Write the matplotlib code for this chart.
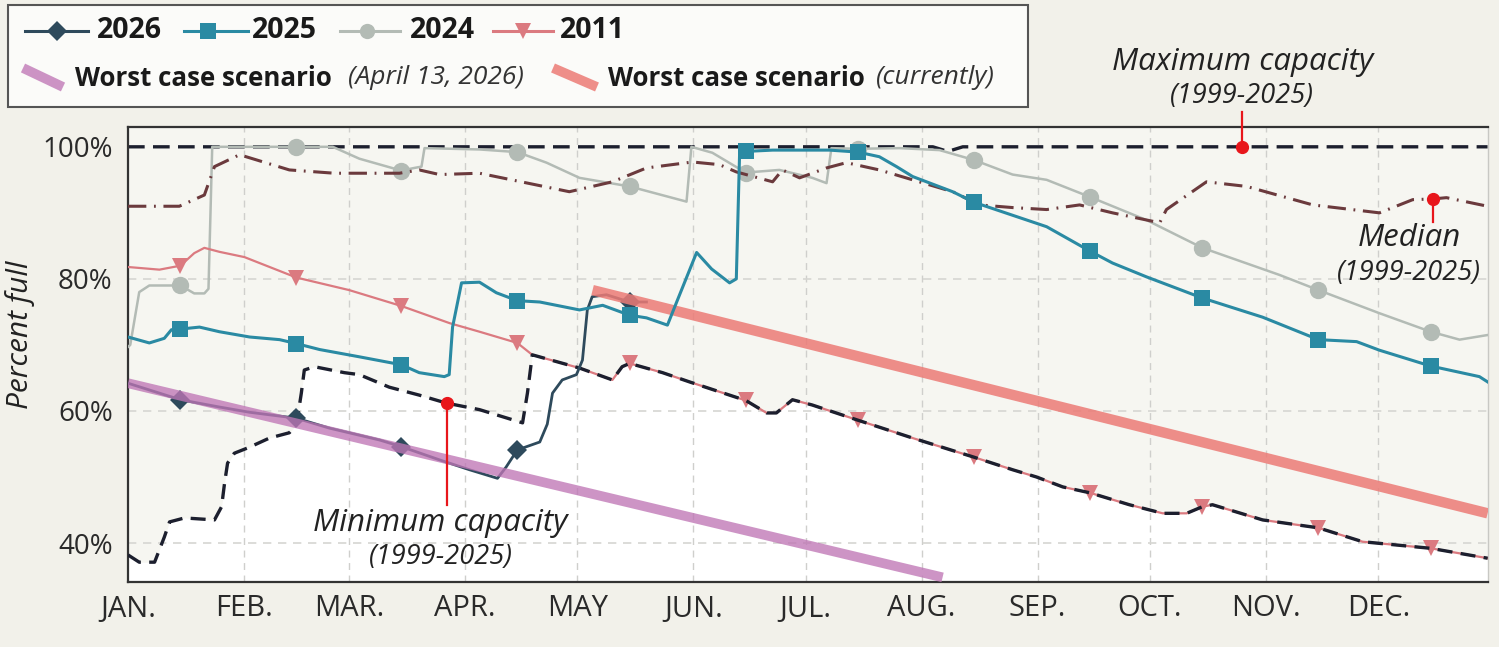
import matplotlib
matplotlib.use('Agg')
import matplotlib.pyplot as plt
from matplotlib.lines import Line2D
from matplotlib.patches import Rectangle

plt.rcParams['font.family'] = ['Open Sans', 'DejaVu Sans']

# ---- data (day of year, percent full) ----
MONTHS = ['JAN.', 'FEB.', 'MAR.', 'APR.', 'MAY', 'JUN.', 'JUL.', 'AUG.',
          'SEP.', 'OCT.', 'NOV.', 'DEC.']
MONTH_START = [0, 31, 59, 90, 120, 151, 181, 212, 243, 273, 304, 334]
MID_MONTH = [14, 45, 73, 104, 134, 165, 195, 226, 257, 287, 318, 348]

d2026 = [0, 14, 24.4, 32.5, 45, 53.8, 67.2, 73, 83.2, 91.2, 98.7, 101, 104,
         110, 112, 113.4, 116, 119.8, 121.4, 122.7, 124, 127.8, 134, 138.5]
v2026 = [64.2, 61.7, 60.6, 59.8, 58.9, 57.4, 55.6, 54.6, 52.6, 51.1, 49.8, 51.5, 54.1,
         55.3, 58.0, 62.7, 64.7, 65.5, 67.7, 75.3, 77.3, 77.6, 76.5, 76.5]

d2025 = [0, 5.7, 9.7, 11.6, 14, 19.1, 24.4, 32.5, 40.5, 45, 51.2, 61.8, 73, 77.8,
         84.5, 85.8, 86.7, 89.1, 93.9, 98.4, 104, 110, 120.6, 126.8, 134, 138.5,
         144.1, 146.5, 151.9, 155.9, 160.7, 162.5, 163.4, 165, 172.2, 187.4, 195,
         200.7, 205.3, 209.6, 220.3, 226, 245.4, 257, 263, 272.1, 287, 303.1, 318,
         328.2, 334.3, 348, 361, 363.2]
v2025 = [71.2, 70.3, 71.0, 72.3, 72.4, 72.7, 72.0, 71.2, 70.8, 70.2, 69.3, 68.2, 67.0, 65.8,
         65.2, 65.5, 72.7, 79.4, 79.5, 77.9, 76.7, 76.5, 75.3, 76.0, 74.5, 74.1,
         73.0, 76.4, 84.0, 81.5, 79.4, 80.0, 99.5, 99.3, 99.5, 99.5, 99.2,
         98.5, 97.0, 95.5, 93.2, 91.6, 87.9, 84.2, 82.4, 80.3, 77.1, 74.2, 70.8,
         70.5, 69.2, 66.8, 65.2, 64.4]

d2024 = [0, 0.6, 3, 5.7, 14, 17.7, 20.4, 21.5, 22.5, 45, 54.7, 61.8, 73, 76.5, 78.4,
         79.2, 93.9, 104, 111.8, 120.6, 134, 149.2, 150.5, 156.1, 165, 174, 182.8,
         186.6, 187.9, 195, 206.1, 216.8, 226, 236.3, 245.4, 257, 272.1, 287, 307.6,
         318, 334.3, 348, 355.7, 363.2]
v2024 = [69.7, 70.0, 78.0, 79.0, 79.0, 77.8, 77.8, 78.5, 100, 100, 100, 98.2, 96.4, 96.8, 97.0,
         99.8, 99.6, 99.2, 97.6, 95.3, 94.0, 91.7, 100, 99.1, 96.1, 96.5, 95.3,
         94.5, 99.8, 99.7, 99.8, 99.5, 98.0, 95.8, 95.0, 92.4, 88.9, 84.7, 80.6,
         78.3, 74.8, 72.0, 70.8, 71.5]

d2011 = [0, 8.4, 14, 17.7, 20.4, 24.4, 31.1, 45, 59.1, 73, 85.9, 93.9, 104, 108,
         120.6, 129.4, 132, 134, 142.8, 150, 160.7, 165, 170.6, 173.2, 177.5, 182.8,
         195, 209.6, 226, 236.3, 242.7, 249.7, 257, 267.5, 276.4, 282.8, 287, 289.7,
         303.1, 318, 329.8, 348, 363.2]
v2011 = [81.8, 81.4, 82.0, 83.9, 84.7, 84.1, 83.3, 80.2, 78.3, 75.9, 73.3, 72.0, 70.3, 68.5,
         66.5, 64.7, 66.7, 67.2, 65.8, 64.4, 62.4, 61.6, 59.7, 59.7, 61.7, 60.9,
         58.6, 55.9, 53.0, 51.1, 50.0, 48.5, 47.6, 45.8, 44.5, 44.5, 45.5, 45.8,
         43.5, 42.3, 40.2, 39.2, 37.7]

# minimum capacity: own values until it meets 2011 (day 108), then 2011
dmin_early = [0, 3, 7.1, 9.7, 11.1, 15.1, 23.1, 25, 25.8, 26.6, 28.4, 32.4, 37.8, 43.1,
              45, 46.3, 47.1, 49.8, 57.8, 61.8, 69.8, 77.8, 85, 93.9, 105.4, 106.7]
vmin_early = [38.2, 37.1, 37.1, 40.9, 43.2, 43.8, 43.5, 45.5, 49.1, 52.1, 53.6, 54.5, 55.9, 56.7,
              57.9, 62.7, 66.2, 66.7, 65.8, 65.5, 63.6, 62.4, 61.2, 60.2, 58.2, 62.7]
dmin = dmin_early + d2011[d2011.index(108):]
vmin = vmin_early + v2011[d2011.index(108):]

dmax = [0, 215, 219, 223, 363.2]
vmax = [100, 100, 99.3, 100, 100]

dmed = [0, 13.7, 20.4, 23.1, 29.8, 43.1, 55.1, 72.5, 77.8, 83.2, 93.9, 117.9, 129.4,
        138.5, 150.8, 158, 162.5, 172.2, 174.8, 179.4, 186.6, 191.9, 200.7, 209.6,
        220.3, 227.5, 236.3, 245.4, 254.2, 263, 275.6, 277.4, 288.1, 298.8, 316.5,
        334.3, 343.2, 348.5, 352.2, 363.2]
vmed = [91.0, 91.0, 92.7, 97.0, 98.8, 96.5, 96.0, 96.0, 96.5, 95.8, 96.0, 93.2, 94.7,
        96.8, 97.7, 97.3, 96.2, 94.7, 96.5, 95.3, 96.8, 97.6, 96.5, 95.0,
        93.2, 91.2, 90.8, 90.5, 91.2, 90.0, 88.5, 90.5, 94.7, 94.0, 91.2,
        90.0, 92.0, 92.1, 92.3, 91.0]

worst_apr_d = [0, 217.6]
worst_apr_v = [64.2, 34.8]
worst_now_d = [124.1, 363.2]
worst_now_v = [78.3, 44.5]

# annotation anchor points (day, value)
max_pt = (297.7, 100)
med_pt = (348.5, 92.1)
min_pt = (85.3, 61.2)

# ---- colours ----
C2026 = '#2e4a5c'
C2025 = '#2a8aa3'
C2024 = '#b3bbb5'
C2011 = '#db7a80'
CMED = '#6b3a3d'
CDASH = '#1c1f2e'
CPURPLE = '#bf76b5'
CSALMON = '#ec7b76'
CRED = '#e8161b'
BG = '#f2f1ea'
TXT = '#222222'

BIG = 22.5    # annotation headline size
SMALL = 19.5  # "(1999-2025)" size


def marks(days):
    return [i for i, d in enumerate(days) if d in MID_MONTH]


W, H = 1499, 647
fig = plt.figure(figsize=(W / 100, H / 100), dpi=100, facecolor=BG)
ax = fig.add_axes([128 / W, 1 - 582 / H, (1488 - 128) / W, (582 - 127) / H])
ax.set_facecolor('#f6f6f1')
ax.set_xlim(0, 363.3)
ax.set_ylim(34.1, 103.0)

# white area under minimum capacity
ax.fill_between(dmin, 0, vmin, color='white', zorder=0.5, lw=0)

for d in MONTH_START[1:]:
    ax.axvline(d, color='#cfcfcc', lw=1, ls=(0, (5, 4)), zorder=1)
for v in [40, 60, 80]:
    ax.axhline(v, color='#d6d6d2', lw=1.2, ls=(0, (5, 4)), zorder=1)

ax.plot(d2024, v2024, color=C2024, lw=1.8, marker='o', ms=12.5, mew=0,
        markevery=marks(d2024), zorder=3)
ax.plot(dmed, vmed, color=CMED, lw=2.2, ls=(0, (6, 2.5, 0.6, 2.5)), zorder=3.5)
ax.plot(d2011, v2011, color=C2011, lw=1.6, marker='v', ms=12, mew=0,
        markevery=marks(d2011), zorder=4)
ax.plot(dmin, vmin, color=CDASH, lw=2.4, ls=(0, (4.5, 2.5)), zorder=4.5)
ax.plot(dmax, vmax, color=CDASH, lw=2.4, ls=(0, (5, 2.5)), zorder=2.5)
ax.plot(d2026, v2026, color=C2026, lw=2.0, marker='D', ms=10, mew=0,
        markevery=marks(d2026), zorder=5)
ax.plot(worst_apr_d, worst_apr_v, color=CPURPLE, lw=7, alpha=0.78,
        solid_capstyle='butt', zorder=6)
ax.plot(worst_now_d, worst_now_v, color=CSALMON, lw=7.5, alpha=0.85,
        solid_capstyle='butt', zorder=6)
ax.plot(d2025, v2025, color=C2025, lw=2.2, marker='s', ms=12, mew=0,
        markevery=marks(d2025), zorder=7)

# annotations
ax.plot([max_pt[0]] * 2, [max_pt[1], 105.3], color=CRED, lw=1.6, clip_on=False, zorder=8)
ax.plot(*max_pt, 'o', color=CRED, ms=8.5, clip_on=False, zorder=8)
ax.text(max_pt[0], 112.9, 'Maximum capacity', ha='center', va='center',
        style='italic', fontsize=BIG, color=TXT, clip_on=False)
ax.text(max_pt[0], 107.7, '(1999-2025)', ha='center', va='center',
        style='italic', fontsize=SMALL, color=TXT, clip_on=False)

ax.plot([med_pt[0]] * 2, [med_pt[1], 88.6], color=CRED, lw=1.6, zorder=8)
ax.plot(*med_pt, 'o', color=CRED, ms=8.5, zorder=8)
ax.text(342.3, 86.2, 'Median', ha='center', va='center',
        style='italic', fontsize=BIG, color=TXT)
ax.text(342.3, 80.9, '(1999-2025)', ha='center', va='center',
        style='italic', fontsize=SMALL, color=TXT)

ax.plot([min_pt[0]] * 2, [min_pt[1], 45.8], color=CRED, lw=1.6, zorder=8)
ax.plot(*min_pt, 'o', color=CRED, ms=8.5, zorder=8)
ax.text(83.5, 43.0, 'Minimum capacity', ha='center', va='center',
        style='italic', fontsize=BIG, color=TXT, zorder=9)
ax.text(83.5, 37.9, '(1999-2025)', ha='center', va='center',
        style='italic', fontsize=SMALL, color=TXT, zorder=9)

# axes styling
ax.set_xticks(MONTH_START)
ax.set_xticklabels(MONTHS)
ax.set_yticks([40, 60, 80, 100])
ax.set_yticklabels(['40%', '60%', '80%', '100%'])
ax.tick_params(axis='both', length=0, colors='#2a2a2a')
ax.tick_params(axis='x', pad=9, labelsize=21)
ax.tick_params(axis='y', pad=11, labelsize=20)
ax.set_ylabel('Percent full', style='italic', fontsize=21.5, color=TXT)
ax.yaxis.label.set_va('center')
ax.yaxis.set_label_coords((20 - 128) / 1360, (582 - 335) / 455)
for s in ['left', 'bottom', 'top']:
    ax.spines[s].set_color('#333333')
    ax.spines[s].set_linewidth(1.6)
ax.spines['right'].set_color('#c8c8c4')
ax.spines['right'].set_linewidth(1)


# ---- legend drawn in figure pixels ----
def fx(px):
    return px / W


def fy(py):
    return 1 - py / H


fig.patches.append(Rectangle((fx(8), fy(107)), (1028 - 8) / W, (107 - 5) / H,
                             transform=fig.transFigure, facecolor='#fbfbf9',
                             edgecolor='#555555', lw=1.5, zorder=0))

row1 = [(25, 88, 57, C2026, 'D', 10, '2026', 97),
        (184, 248, 208, C2025, 's', 11, '2025', 252),
        (340, 400, 367, C2024, 'o', 11, '2024', 410),
        (493, 553, 523, C2011, 'v', 11, '2011', 560)]
for x0, x1, xm, col, mk, ms, lab, xt in row1:
    fig.add_artist(Line2D([fx(x0), fx(x1)], [fy(31), fy(31)], color=col, lw=2.2,
                          transform=fig.transFigure))
    fig.add_artist(Line2D([fx(xm)], [fy(31)], color=col, marker=mk, ms=ms, mew=0,
                          transform=fig.transFigure))
    fig.text(fx(xt), fy(31), lab, fontsize=20.5, fontweight='bold', color='#1a1a1a',
             ha='left', va='center')

row2 = [(23, 68, 63, 87, CPURPLE, 0.78, 75, '(April 13, 2026)', 348),
        (553, 68, 597, 87, CSALMON, 0.85, 608, '(currently)', 876)]
for x0, y0, x1, y1, col, al, xt, sub, xs in row2:
    fig.add_artist(Line2D([fx(x0), fx(x1)], [fy(y0), fy(y1)], color=col, lw=7,
                          alpha=al, solid_capstyle='butt', transform=fig.transFigure))
    fig.text(fx(xt), fy(78), 'Worst case scenario', fontsize=18.6, fontweight='bold',
             color='#1a1a1a', ha='left', va='center')
    fig.text(fx(xs), fy(78), sub, fontsize=19, style='italic', color='#333',
             ha='left', va='center')

fig.savefig('out.png', dpi=100, facecolor=BG)
